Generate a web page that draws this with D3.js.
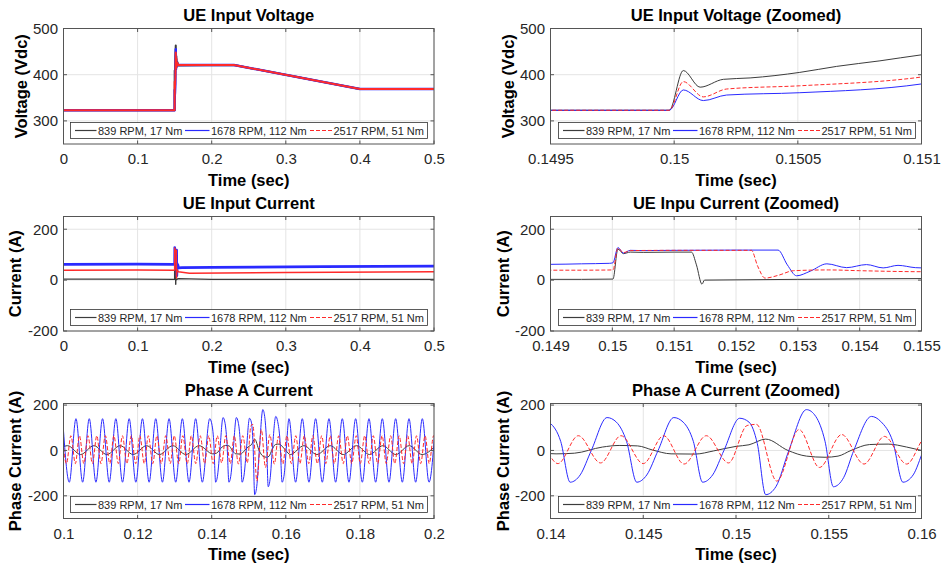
<!DOCTYPE html>
<html><head><meta charset="utf-8">
<script src="https://cdn.jsdelivr.net/npm/d3@7"></script>
<style>
body{margin:0;background:#fff;}
svg{display:block;font-family:"Liberation Sans",Arial,Helvetica,sans-serif;}
</style></head><body>
<script>
// ---------------- DATA ----------------
const seriesNames = ["839 RPM, 17 Nm", "1678 RPM, 112 Nm", "2517 RPM, 51 Nm"];

// UE input voltage [time s, Vdc]
const volt839 = [[0,323],[0.14998,323],[0.150037,409],[0.150105,373],[0.150199,390],[0.150307,393],[0.150508,405],[0.150657,418],[0.150832,430],[0.151,443],[0.1515,463],[0.1519,415],[0.1523,440],[0.1527,418],[0.1535,428],[0.155,420],[0.23,421],[0.4,369],[0.5,369]];
const volt1678 = [[0,323],[0.14998,323],[0.150037,367],[0.150118,344],[0.150212,356],[0.150508,361],[0.151,380],[0.1515,455],[0.1519,412],[0.1523,432],[0.1528,417],[0.1535,425],[0.155,421],[0.23,421],[0.4,369],[0.5,369]];
const volt2517 = [[0,323],[0.14998,323],[0.150037,385],[0.150118,352],[0.150212,369],[0.150508,376],[0.151,395],[0.1515,448],[0.1519,414],[0.1523,435],[0.1528,418],[0.1535,426],[0.155,421],[0.23,421],[0.4,369],[0.5,369]];

// UE input current [time s, A]
const cur839 = [[0,4],[0.1,4],[0.1495,3],[0.15001,4],[0.15009,122],[0.15018,104],[0.15029,110],[0.1505,109],[0.151,110],[0.15128,110],[0.15136,60],[0.15145,-16],[0.15149,0],[0.152,1],[0.153,3],[0.154,5],[0.155,6],[0.2,3],[0.5,3]];
const cur1678 = [[0,62],[0.1,63],[0.149,62],[0.1495,64],[0.14995,66],[0.15001,68],[0.15009,128],[0.15018,106],[0.15029,117],[0.1505,116],[0.151,117],[0.152,118],[0.15268,118],[0.15283,60],[0.15298,17],[0.1532,35],[0.15347,64],[0.15379,49],[0.15411,61],[0.15438,48],[0.15462,58],[0.1549,49],[0.155,48],[0.16,49],[0.2,50],[0.35,53],[0.5,55]];
const cur2517 = [[0,39],[0.1,40],[0.1495,39],[0.15001,40],[0.15009,126],[0.15018,108],[0.15029,116],[0.151,117],[0.15225,117],[0.15235,55],[0.15247,8],[0.1527,20],[0.15293,37],[0.1535,40],[0.154,37],[0.155,33],[0.17,27],[0.3,30],[0.5,33]];

// Phase A current extrema [time s, A]
const phase839 = [[0.0975,-18],[0.1011,21],[0.1046,-18],[0.1082,21],[0.1117,-18],[0.1153,21],[0.1188,-18],[0.1224,21],[0.1259,-18],[0.1295,21],[0.1330,-18],[0.1366,21],[0.1403,-15],[0.1413,-12],[0.1428,15],[0.1437,22],[0.1447,20],[0.1455,2],[0.1465,-15],[0.1478,-16],[0.1488,-2],[0.1500,18],[0.1507,25],[0.1516,50],[0.1528,0],[0.1538,-25],[0.1548,-30],[0.1555,-25],[0.1562,0],[0.1572,26],[0.1582,28],[0.1592,15],[0.1600,0],[0.1612,-18],[0.1649,21],[0.1684,-18],[0.1720,21],[0.1755,-18],[0.1791,21],[0.1826,-18],[0.1862,21],[0.1897,-18],[0.1933,21],[0.1968,-18],[0.2004,21]];
const phase1678 = [[0.09977,140],[0.10157,-140],[0.10336,140],[0.10516,-140],[0.10695,140],[0.10875,-140],[0.11054,140],[0.11234,-140],[0.11413,140],[0.11593,-140],[0.11772,140],[0.11952,-140],[0.12131,140],[0.12311,-140],[0.1249,140],[0.1267,-140],[0.12849,140],[0.13029,-140],[0.13208,140],[0.13388,-140],[0.13567,140],[0.13747,-140],[0.13946,140],
 [0.13996,122],[0.14055,40],[0.14106,-140],[0.14160,-108],[0.14220,0],[0.14305,145],[0.14355,125],[0.14410,40],[0.14465,-140],[0.14519,-108],[0.14580,0],[0.14665,145],[0.14715,125],[0.14770,40],[0.14820,-140],[0.14874,-108],[0.14935,0],[0.15020,142],[0.15070,125],[0.15115,30],[0.15160,-195],[0.15215,-160],[0.15285,0],[0.15380,180],[0.15430,150],[0.15480,40],[0.15525,-160],[0.15580,-120],[0.15635,0],[0.15730,150],[0.15780,128],[0.15845,40],[0.15900,-140],[0.15955,-108],[0.16010,0],[0.16085,140],
 [0.16265,-140],[0.16445,140],[0.16625,-140],[0.16805,140],[0.16985,-140],[0.17165,140],[0.17345,-140],[0.17525,140],[0.17705,-140],[0.17885,140],[0.18065,-140],[0.18245,140],[0.18425,-140],[0.18605,140],[0.18785,-140],[0.18965,140],[0.19145,-140],[0.19325,140],[0.19505,-140],[0.19685,140],[0.19865,-140],[0.20045,140]];
const phase2517 = [[0.0997,65],[0.1008,-58],[0.1020,65],[0.1032,-58],[0.1043,65],[0.1055,-58],[0.1066,65],[0.1078,-58],[0.1090,65],[0.1101,-58],[0.1113,65],[0.1125,-58],[0.1136,65],[0.1148,-58],[0.1159,65],[0.1171,-58],[0.1183,65],[0.1195,-58],[0.1206,65],[0.1218,-58],[0.1229,65],[0.1241,-58],[0.1252,65],[0.1264,-58],[0.1276,65],[0.1288,-58],[0.1299,65],[0.1311,-58],[0.1322,65],[0.1334,-58],[0.1345,65],[0.1357,-58],[0.1369,65],[0.1381,-58],[0.1392,65],[0.1404,-58],[0.1415,65],[0.1427,-55],[0.1438,65],[0.1450,-58],[0.1461,65],[0.1472,-60],[0.1484,65],[0.1496,-55],[0.1506,110],[0.1511,115],[0.1522,-135],[0.1534,92],[0.1545,-75],[0.1557,70],[0.1569,-60],[0.1580,62],[0.1592,-60],[0.1603,65],[0.1615,-58],[0.1627,65],[0.1638,-58],[0.1650,65],[0.1662,-58],[0.1673,65],[0.1685,-58],[0.1697,65],[0.1708,-58],[0.1720,65],[0.1731,-58],[0.1743,65],[0.1755,-58],[0.1766,65],[0.1778,-58],[0.1790,65],[0.1801,-58],[0.1813,65],[0.1825,-58],[0.1836,65],[0.1848,-58],[0.1860,65],[0.1871,-58],[0.1883,65],[0.1894,-58],[0.1906,65],[0.1918,-58],[0.1929,65],[0.1941,-58],[0.1953,65],[0.1964,-58],[0.1976,65],[0.1987,-58],[0.1999,65],[0.2011,-58]];

// Tick values and labels
const xTicksFull = [0,0.1,0.2,0.3,0.4,0.5];
const xLabelsFull = ["0","0.1","0.2","0.3","0.4","0.5"];
const xTicksVoltZoom = [0.1495,0.15,0.1505,0.151];
const xLabelsVoltZoom = ["0.1495","0.15","0.1505","0.151"];
const xTicksCurZoom = [0.149,0.15,0.151,0.152,0.153,0.154,0.155];
const xLabelsCurZoom = ["0.149","0.15","0.151","0.152","0.153","0.154","0.155"];
const xTicksPhase = [0.1,0.12,0.14,0.16,0.18,0.2];
const xLabelsPhase = ["0.1","0.12","0.14","0.16","0.18","0.2"];
const xTicksPhaseZoom = [0.14,0.145,0.15,0.155,0.16];
const xLabelsPhaseZoom = ["0.14","0.145","0.15","0.155","0.16"];
const yTicksVolt = [300,400,500];
const yLabelsVolt = ["300","400","500"];
const yTicksCur = [-200,0,200];
const yLabelsCur = ["-200","0","200"];

// ---------------- DRAW ----------------
const W = 943, H = 569;
const FONT = '"Liberation Sans", Arial, Helvetica, sans-serif';
const svg = d3.select("body").append("svg").attr("width", W).attr("height", H);
const colors = ["#3c3c3c", "#2a2aff", "#ff2a2a"];

const L = {left:63.5, right:434}, R = {left:550.5, right:921.5};
const rows = [{top:28.5, bottom:144}, {top:216.5, bottom:331}, {top:403.5, bottom:518.5}];

const panels = [
  {id:1, col:L, row:rows[0], title:"UE Input Voltage", xDomain:[0,0.5], yDomain:[250,500], xTicks:xTicksFull, xLabels:xLabelsFull, yTicks:yTicksVolt, yLabels:yLabelsVolt, yTitle:"Voltage (Vdc)", yTitleX:21.5, series:[volt839,volt1678,volt2517], curve:d3.curveLinear, widths:[2,2.4,2], dashes:[null,null,null]},
  {id:2, col:R, row:rows[0], title:"UE Input Voltage (Zoomed)", xDomain:[0.1495,0.151], yDomain:[250,500], xTicks:xTicksVoltZoom, xLabels:xLabelsVoltZoom, yTicks:yTicksVolt, yLabels:yLabelsVolt, yTitle:"Voltage (Vdc)", yTitleX:508, series:[volt839,volt1678,volt2517], curve:d3.curveMonotoneX, widths:[1,1,1], dashes:[null,null,"4,2"]},
  {id:3, col:L, row:rows[1], title:"UE Input Current", xDomain:[0,0.5], yDomain:[-200,250], xTicks:xTicksFull, xLabels:xLabelsFull, yTicks:yTicksCur, yLabels:yLabelsCur, yTitle:"Current (A)", yTitleX:15.5, series:[cur839,cur1678,cur2517], curve:d3.curveLinear, widths:[1.4,2.6,1.5], dashes:[null,null,null]},
  {id:4, col:R, row:rows[1], title:"UE Inpu Current (Zoomed)", xDomain:[0.149,0.155], yDomain:[-200,250], xTicks:xTicksCurZoom, xLabels:xLabelsCurZoom, yTicks:yTicksCur, yLabels:yLabelsCur, yTitle:"Current (A)", yTitleX:503, series:[cur839,cur1678,cur2517], curve:d3.curveMonotoneX, widths:[1,1,1], dashes:[null,null,"4,2"]},
  {id:5, col:L, row:rows[2], title:"Phase A Current", xDomain:[0.1,0.2], yDomain:[-300,207], xTicks:xTicksPhase, xLabels:xLabelsPhase, yTicks:yTicksCur, yLabels:yLabelsCur, yTitle:"Phase Current (A)", yTitleX:15.5, series:[phase839,phase1678,phase2517], curve:d3.curveMonotoneX, widths:[1,1,1], dashes:[null,null,"4,2"]},
  {id:6, col:R, row:rows[2], title:"Phase A Current (Zoomed)", xDomain:[0.14,0.16], yDomain:[-300,207], xTicks:xTicksPhaseZoom, xLabels:xLabelsPhaseZoom, yTicks:yTicksCur, yLabels:yLabelsCur, yTitle:"Phase Current (A)", yTitleX:503, series:[phase839,phase1678,phase2517], curve:d3.curveMonotoneX, widths:[1,1,1], dashes:[null,null,"4,2"]}
];

function drawPanel(p){
  const left = p.col.left, right = p.col.right, top = p.row.top, bottom = p.row.bottom;
  const g = svg.append("g");
  const x = d3.scaleLinear().domain(p.xDomain).range([left, right]);
  const y = d3.scaleLinear().domain(p.yDomain).range([bottom, top]);

  // grid
  g.selectAll(".gx").data(p.xTicks).join("line")
    .attr("x1", d=>x(d)).attr("x2", d=>x(d)).attr("y1", top).attr("y2", bottom)
    .attr("stroke", "#e4e4e4").attr("stroke-width", 1);
  g.selectAll(".gy").data(p.yTicks).join("line")
    .attr("x1", left).attr("x2", right).attr("y1", d=>y(d)).attr("y2", d=>y(d))
    .attr("stroke", "#e4e4e4").attr("stroke-width", 1);

  // lines
  const cid = "clip" + p.id;
  svg.append("clipPath").attr("id", cid).append("rect")
    .attr("x", left).attr("y", top).attr("width", right-left).attr("height", bottom-top);
  const line = d3.line().x(d=>x(d[0])).y(d=>y(d[1])).curve(p.curve);
  p.series.forEach((s,i)=>{
    g.append("path").attr("d", line(s)).attr("fill","none")
      .attr("stroke", colors[i]).attr("stroke-width", p.widths[i])
      .attr("stroke-dasharray", p.dashes[i]).attr("stroke-linejoin","round")
      .attr("clip-path", `url(#${cid})`);
  });

  // box
  g.append("rect").attr("x", left).attr("y", top).attr("width", right-left).attr("height", bottom-top)
    .attr("fill","none").attr("stroke","#555").attr("stroke-width",1);

  // inner tick marks
  const tl = 3.5;
  p.xTicks.forEach(t=>{
    g.append("line").attr("x1",x(t)).attr("x2",x(t)).attr("y1",bottom).attr("y2",bottom-tl).attr("stroke","#555");
    g.append("line").attr("x1",x(t)).attr("x2",x(t)).attr("y1",top).attr("y2",top+tl).attr("stroke","#555");
  });
  p.yTicks.forEach(t=>{
    g.append("line").attr("x1",left).attr("x2",left+tl).attr("y1",y(t)).attr("y2",y(t)).attr("stroke","#555");
    g.append("line").attr("x1",right).attr("x2",right-tl).attr("y1",y(t)).attr("y2",y(t)).attr("stroke","#555");
  });

  // axes labels
  const xa = d3.axisBottom(x).tickValues(p.xTicks).tickFormat((d,i)=>p.xLabels[i]).tickSize(0).tickPadding(9.5);
  const gx = g.append("g").attr("transform", `translate(0,${bottom})`).call(xa);
  gx.select(".domain").remove();
  gx.attr("font-size", 15).attr("font-family", FONT);
  gx.selectAll("text").attr("fill", "#262626");

  const ya = d3.axisLeft(y).tickValues(p.yTicks).tickFormat((d,i)=>p.yLabels[i]).tickSize(0).tickPadding(5.5);
  const gy = g.append("g").attr("transform", `translate(${left},0)`).call(ya);
  gy.select(".domain").remove();
  gy.attr("font-size", 15).attr("font-family", FONT);
  gy.selectAll("text").attr("fill", "#262626");

  // titles
  const cx = (left+right)/2;
  g.append("text").attr("x", cx).attr("y", top-7.8).attr("text-anchor","middle")
    .attr("font-size", 16.5).attr("font-weight","bold").attr("fill","#000").text(p.title);
  g.append("text").attr("x", cx).attr("y", bottom+41.5).attr("text-anchor","middle")
    .attr("font-size", 16.5).attr("font-weight","bold").attr("fill","#000").text("Time (sec)");
  g.append("text").attr("transform", `translate(${p.yTitleX},${(top+bottom)/2}) rotate(-90)`)
    .attr("dy","0.35em").attr("text-anchor","middle")
    .attr("font-size", 16.5).attr("font-weight","bold").attr("fill","#000").text(p.yTitle);

  // legend
  const lw = 357, lh = 16;
  const ly = Math.round(bottom - 6.5 - lh) + 0.5;
  const lg = g.append("g").attr("transform", `translate(${Math.round(cx - lw/2)+0.5},${ly})`);
  lg.append("rect").attr("width", lw).attr("height", lh).attr("fill","#fff")
    .attr("stroke","#333").attr("stroke-width",0.8);
  const items = [{l0:4.5,l1:26,tx:27.5},{l0:114.5,l1:139,tx:140.5},{l0:239.5,l1:261.5,tx:263}];
  items.forEach((it,i)=>{
    lg.append("line").attr("x1",it.l0).attr("x2",it.l1).attr("y1",lh/2).attr("y2",lh/2)
      .attr("stroke",colors[i]).attr("stroke-width",1.2)
      .attr("stroke-dasharray", i===2 ? "4,2" : null);
    lg.append("text").attr("x",it.tx).attr("y",lh/2+4).attr("font-size",11)
      .attr("fill","#262626").text(seriesNames[i]);
  });
}

panels.forEach(drawPanel);
</script>
</body></html>
